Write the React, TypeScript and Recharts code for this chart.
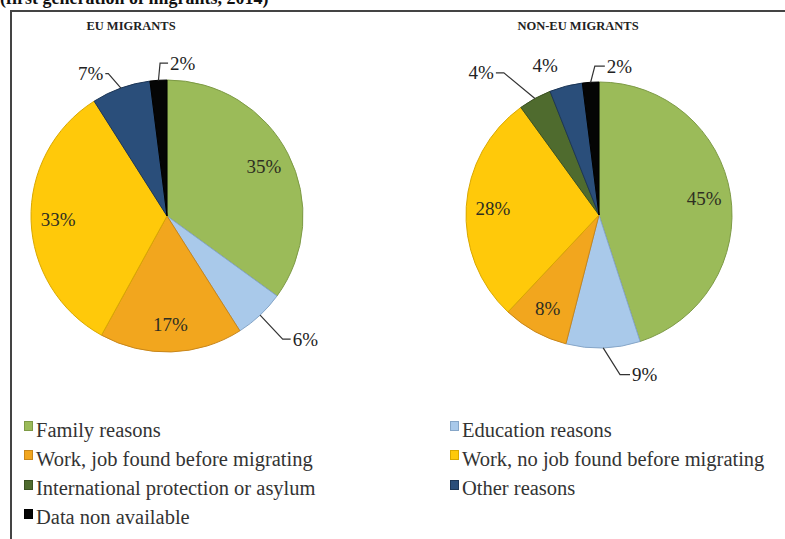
import { Pie, PieChart, Cell } from 'recharts';

const categories = [
  'Family reasons',
  'Education reasons',
  'Work, job found before migrating',
  'Work, no job found before migrating',
  'International protection or asylum',
  'Other reasons',
  'Data non available',
];
const euValues = [35, 6, 17, 33, 0, 7, 2];
const nonEuValues = [45, 9, 8, 28, 4, 4, 2];

const colors = ['#9bbb59', '#a9c9ea', '#f2a61e', '#ffc90a', '#4f6b2e', '#2a4e7a', '#050505'];
const strokes = ['#7d9a45', '#86a6c8', '#c8861a', '#d9a800', '#3b5222', '#1c3656', '#000000'];

const SERIF = '"Liberation Serif", "Times New Roman", serif';
const RAD = Math.PI / 180;

type Layout = { ext: number; shift: number; dir: number; hlen: number; noLine?: boolean };

const euLayout: Record<string, Layout> = {
  'Education reasons': { ext: 33, shift: 0, dir: 1, hlen: 8 },
  'Other reasons': { ext: 18, shift: 2.6, dir: -1, hlen: 3 },
  'Data non available': { ext: 17, shift: -1, dir: 1, hlen: 8 },
};
const nonEuLayout: Record<string, Layout> = {
  'Education reasons': { ext: 28, shift: 5.7, dir: 1, hlen: 10 },
  'International protection or asylum': { ext: 38, shift: 5, dir: -1, hlen: 8 },
  'Other reasons': { ext: 26, shift: 5.4, dir: 0, hlen: 0, noLine: true },
  'Data non available': { ext: 16, shift: -2, dir: 1, hlen: 10 },
};

const build = (values: number[]) =>
  categories
    .map((name, i) => ({ name, value: values[i], color: colors[i], stroke: strokes[i] }))
    .filter((d) => d.value > 0);

const euData = build(euValues);
const nonEuData = build(nonEuValues);

const makeLabel = (layout: Record<string, Layout>) => (props: any) => {
  const { cx, cy, midAngle, outerRadius, name, value } = props;
  const l = layout[name];
  if (!l) {
    const r = outerRadius * 0.8;
    const x = cx + r * Math.cos(-midAngle * RAD);
    const y = cy + r * Math.sin(-midAngle * RAD);
    return (
      <text x={x} y={y} textAnchor="middle" dominantBaseline="central" fill="#2e2e22" fontSize={19} fontFamily={SERIF}>
        {value}%
      </text>
    );
  }
  const x0 = cx + outerRadius * Math.cos(-midAngle * RAD);
  const y0 = cy + outerRadius * Math.sin(-midAngle * RAD);
  const a = midAngle + l.shift;
  const x1 = cx + (outerRadius + l.ext) * Math.cos(-a * RAD);
  const y1 = cy + (outerRadius + l.ext) * Math.sin(-a * RAD);
  const x2 = x1 + l.dir * l.hlen;
  const anchor = l.dir > 0 ? 'start' : l.dir < 0 ? 'end' : 'middle';
  return (
    <g>
      {!l.noLine && (
        <polyline points={`${x0},${y0} ${x1},${y1} ${x2},${y1}`} fill="none" stroke="#333" strokeWidth={1.2} />
      )}
      <text x={x2 + l.dir * 2} y={y1} textAnchor={anchor} dominantBaseline="central" fill="#222" fontSize={19} fontFamily={SERIF}>
        {value}%
      </text>
    </g>
  );
};

export default function App() {
  return (
    <div style={{ position: 'absolute', left: 0, top: 0, width: 785, height: 539, overflow: 'hidden', background: '#fff', fontFamily: SERIF }}>
      <div style={{ position: 'absolute', left: 0, top: -11, fontSize: 18, fontWeight: 'bold', lineHeight: '18px', whiteSpace: 'nowrap', color: '#111' }}>
        (first generation of migrants, 2014)
      </div>
      <div style={{ position: 'absolute', left: 10, top: 10, width: 800, height: 560, border: '2px solid #444', boxSizing: 'border-box' }} />
      <div style={{ position: 'absolute', left: 131, top: 19, transform: 'translateX(-50%)', fontSize: 12.5, fontWeight: 'bold', color: '#222', whiteSpace: 'nowrap' }}>
        EU MIGRANTS
      </div>
      <div style={{ position: 'absolute', left: 578, top: 19, transform: 'translateX(-50%)', fontSize: 12.5, fontWeight: 'bold', color: '#222', whiteSpace: 'nowrap' }}>
        NON-EU MIGRANTS
      </div>
      <div style={{ position: 'absolute', left: 0, top: 0 }}>
        <PieChart width={785} height={400} margin={{ top: 0, right: 0, bottom: 0, left: 0 }}>
          <Pie
            data={euData}
            dataKey="value"
            nameKey="name"
            cx={167}
            cy={216}
            outerRadius={136}
            startAngle={90}
            endAngle={-270}
            isAnimationActive={false}
            labelLine={false}
            label={makeLabel(euLayout)}
          >
            {euData.map((d) => (
              <Cell key={d.name} fill={d.color} stroke={d.stroke} strokeWidth={1} />
            ))}
          </Pie>
          <Pie
            data={nonEuData}
            dataKey="value"
            nameKey="name"
            cx={599}
            cy={215}
            outerRadius={133}
            startAngle={90}
            endAngle={-270}
            isAnimationActive={false}
            labelLine={false}
            label={makeLabel(nonEuLayout)}
          >
            {nonEuData.map((d) => (
              <Cell key={d.name} fill={d.color} stroke={d.stroke} strokeWidth={1} />
            ))}
          </Pie>
        </PieChart>
      </div>
      {categories.map((name, i) => {
        const col = i % 2;
        const row = Math.floor(i / 2);
        const left = col === 0 ? 24 : 450;
        const top = 430 + row * 29.3;
        return (
          <div key={name} style={{ position: 'absolute', left, top: top - 12, height: 24, display: 'flex', alignItems: 'center', whiteSpace: 'nowrap', fontSize: 20.5, color: '#333' }}>
            <span style={{ display: 'inline-block', width: 7, height: 8, background: colors[i], border: `1px solid ${strokes[i]}`, marginRight: 3, marginTop: -8 }} />
            {name}
          </div>
        );
      })}
    </div>
  );
}
